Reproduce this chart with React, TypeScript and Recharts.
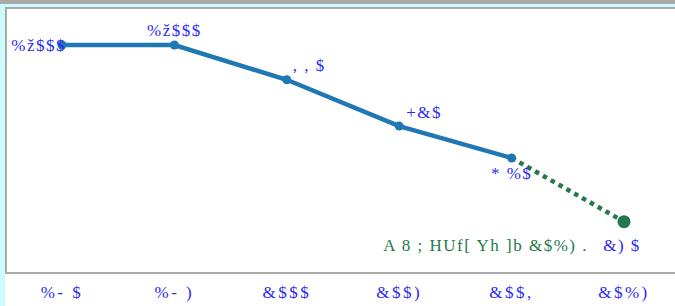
import React from "react";
import { LineChart, Line, XAxis, YAxis } from "recharts";

const years = ["%- $", "%- )", "&$$$", "&$$)", "&$$,", "&$%)"];
const actual = [1000, 1000, 880, 720, 610, null];
const target = [null, null, null, null, 610, 390];
const pointLabels = ["%ž$$$", "%ž$$$", ", , $", "+&$", "* %$", "&) $"];
const targetNote = "A 8 ;  HUf[ Yh ]b &$%)  .";

const data = years.map((year, i) => ({
  year,
  actual: actual[i],
  target: target[i],
  label: pointLabels[i],
}));

const BLUE = "#1f77b4";
const GREEN = "#23794a";
const TEXT_BLUE = "#2a2af5";
const FONT = "'Liberation Serif', serif";

// where each point label sits relative to its point
const labelPos = [
  { dx: 4, dy: 0, anchor: "end" },
  { dx: 0, dy: -15, anchor: "middle" },
  { dx: 6, dy: -14, anchor: "start" },
  { dx: 7, dy: -14, anchor: "start" },
  { dx: 0, dy: 16, anchor: "middle" },
  { dx: -2, dy: 24, anchor: "middle" },
];

function PointLabel(props: any) {
  const { x, y, index } = props;
  if (x == null || y == null) return null;
  const pos = labelPos[index];
  return (
    <g>
      <text
        x={x + pos.dx}
        y={y + pos.dy}
        textAnchor={pos.anchor}
        dominantBaseline="central"
        fill={TEXT_BLUE}
        fontSize={17}
        fontFamily={FONT}
        letterSpacing={1.5}
      >
        {pointLabels[index]}
      </text>
      {index === 5 && (
        <text
          x={x - 36}
          y={y + pos.dy}
          textAnchor="end"
          dominantBaseline="central"
          fill={GREEN}
          fontSize={17}
          fontFamily={FONT}
          letterSpacing={1.5}
        >
          {targetNote}
        </text>
      )}
    </g>
  );
}

function YearTick(props: any) {
  const { x, y, payload } = props;
  return (
    <text
      x={x}
      y={y + 12}
      textAnchor="middle"
      dominantBaseline="central"
      fill={TEXT_BLUE}
      fontSize={17}
      fontFamily={FONT}
      letterSpacing={2.5}
    >
      {payload.value}
    </text>
  );
}

function TargetDot(props: any) {
  const { cx, cy, index } = props;
  if (index !== 5) return <g key={`td-${index}`} />;
  return <circle key={`td-${index}`} cx={cx} cy={cy} r={6.5} fill={GREEN} />;
}

export default function App() {
  return (
    <div
      style={{
        position: "fixed",
        left: 0,
        top: 0,
        width: 675,
        height: 306,
        background: "#ffffff",
        overflow: "hidden",
      }}
    >
      <div style={{ position: "absolute", left: 0, top: 0, width: 675, height: 4, background: "#aaaaaa" }} />
      <div style={{ position: "absolute", left: 0, top: 4, width: 675, height: 3, background: "#ccfbfb" }} />
      <div style={{ position: "absolute", left: 0, top: 4, width: 5, height: 302, background: "#ccfbfb" }} />
      <div
        style={{
          position: "absolute",
          left: 5,
          top: 7,
          width: 700,
          height: 263,
          border: "2px solid #aaaaaa",
          boxSizing: "content-box",
        }}
      />
      <div style={{ position: "absolute", left: 0, top: 0 }}>
        <LineChart
          width={675}
          height={306}
          data={data}
          margin={{ top: 8, right: 51, bottom: 4, left: 62 }}
        >
          <XAxis
            dataKey="year"
            axisLine={false}
            tickLine={false}
            height={30}
            interval={0}
            tick={<YearTick />}
          />
          <YAxis hide domain={[216, 1128]} />
          <Line
            dataKey="target"
            stroke={GREEN}
            strokeWidth={4.5}
            strokeDasharray="4.5 4.5"
            dot={<TargetDot />}
            activeDot={false}
            connectNulls={false}
            isAnimationActive={false}
            label={(p: any) => (p.index === 5 ? <PointLabel key="tl" {...p} /> : <g key={`n-${p.index}`} />)}
          />
          <Line
            dataKey="actual"
            stroke={BLUE}
            strokeWidth={4.5}
            dot={{ r: 4.5, fill: BLUE, stroke: "none" }}
            activeDot={false}
            isAnimationActive={false}
            label={(p: any) =>
              p.index < 5 ? <PointLabel key={`al-${p.index}`} {...p} /> : <g key={`n2-${p.index}`} />
            }
          />
        </LineChart>
      </div>
    </div>
  );
}
